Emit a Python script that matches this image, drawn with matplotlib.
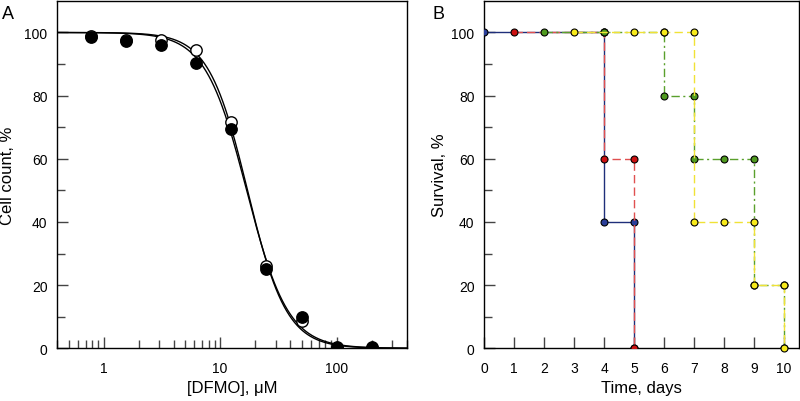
import numpy as np
import matplotlib
matplotlib.use("Agg")
import matplotlib.pyplot as plt
from matplotlib.ticker import LogLocator, NullFormatter, FixedLocator, FixedFormatter

plt.rcParams['font.family'] = ['Liberation Sans', 'DejaVu Sans']

# ---- Panel A data ----
dfmo_conc = [0.78, 1.56, 3.125, 6.25, 12.5, 25, 50, 100, 200]
cells_filled = [98.7, 97.2, 96.0, 90.2, 69.4, 25.1, 9.8, 0.3, 0.3]
cells_open = [98.9, 97.5, 97.7, 94.5, 71.8, 26.2, 8.7, 0.0, 0.0]
# fitted logistic parameters (IC50, Hill slope)
fit_filled = (16.9, 2.45)
fit_open = (17.2, 2.6)

# ---- Panel B data ----
blue_t = [0, 4, 4, 5, 5]
blue_s = [100, 100, 40, 40, 0]
red_t = [1, 4, 4, 5, 5]
red_s = [100, 100, 60, 60, 0]
green_t = [2, 4, 6, 6, 7, 7, 8, 9, 9, 10, 10]
green_s = [100, 100, 100, 80, 80, 60, 60, 60, 20, 20, 0]
yellow_t = [3, 5, 6, 7, 7, 8, 9, 9, 10, 10]
yellow_s = [100, 100, 100, 100, 40, 40, 40, 20, 20, 0]

fig = plt.figure(figsize=(8, 4.02), dpi=100)
H = 347.4 / 402
B0 = 52.7 / 402
axA = fig.add_axes([57.3 / 800, B0, (406.7 - 57.3) / 800, H])
axB = fig.add_axes([484.3 / 800, B0, (799 - 484.3) / 800, H])

tick_color = '#444444'

def logistic(x, c, h):
    return 100.0 / (1.0 + (x / c) ** h)

xx = np.logspace(np.log10(0.4), np.log10(400), 400)
for (c, h) in (fit_open, fit_filled):
    axA.plot(xx, logistic(xx, c, h), color='black', lw=1.0, zorder=2)
axA.plot(dfmo_conc, cells_open, 'o', ms=8.2, mfc='white', mec='black', mew=1.0, zorder=3)
axA.plot(dfmo_conc, cells_filled, 'o', ms=8.2, mfc='black', mec='black', mew=1.0, zorder=4)

axA.set_xscale('log')
axA.set_xlim(0.4, 400)
axA.set_ylim(0, 110)
axA.xaxis.set_major_locator(FixedLocator([1, 10, 100]))
axA.xaxis.set_major_formatter(FixedFormatter(['1', '10', '100']))
axA.xaxis.set_minor_locator(LogLocator(base=10, subs=np.arange(2, 10)))
axA.xaxis.set_minor_formatter(NullFormatter())
axA.set_xlabel('[DFMO], \u03bcM', fontsize=12, labelpad=4)
axA.set_ylabel('Cell count, %', fontsize=12)
axA.yaxis.set_label_coords(-0.121, 0.5)

for ax in (axA, axB):
    ax.set_yticks([0, 20, 40, 60, 80, 100])
    ax.set_yticks([10, 30, 50, 70, 90], minor=True)
    ax.tick_params(axis='both', which='major', direction='in', length=8, width=1,
                   color=tick_color, labelsize=10, top=False, right=False)
    ax.tick_params(axis='both', which='minor', direction='in', length=5.5, width=1,
                   color=tick_color, top=False, right=False)
    ax.tick_params(axis='y', which='major', pad=7)
    ax.tick_params(axis='x', which='major', pad=9)
    for sp in ax.spines.values():
        sp.set_linewidth(1.0)
        sp.set_color('black')

# Panel B
axB.plot(blue_t, blue_s, '-', color='#1f2f7a', lw=1.0, marker='o', ms=5, mfc='#2b3f99',
         mec='black', mew=0.8, zorder=3)
axB.plot(red_t, red_s, color='#e05050', lw=1.0, dashes=(6, 3), marker='o', ms=5,
         mfc='#cc1111', mec='black', mew=0.8, zorder=4)
axB.plot(green_t, green_s, color='#5aa02c', lw=1.0, dashes=(6, 2.5, 1.5, 2.5), marker='o', ms=5,
         mfc='#4f9a1f', mec='black', mew=0.8, zorder=5)
axB.plot(yellow_t, yellow_s, color='#f0e236', lw=1.0, dashes=(6, 3), marker='o', ms=5,
         mfc='#f7ea1b', mec='black', mew=0.8, zorder=6, clip_on=False)
axB.set_xlim(0, 10.5)
axB.set_ylim(0, 110)
axB.set_xticks(range(0, 11))
axB.xaxis.set_minor_locator(FixedLocator([]))
axB.set_xlabel('Time, days', fontsize=12, labelpad=4)
axB.set_ylabel('Survival, %', fontsize=12)
axB.yaxis.set_label_coords(-0.1185, 0.5)

fig.text(2 / 800, 1 - 19 / 402, 'A', fontsize=13, ha='left', va='baseline')
fig.text(432 / 800, 1 - 19 / 402, 'B', fontsize=13, ha='left', va='baseline')

fig.savefig('out.png', dpi=100)
